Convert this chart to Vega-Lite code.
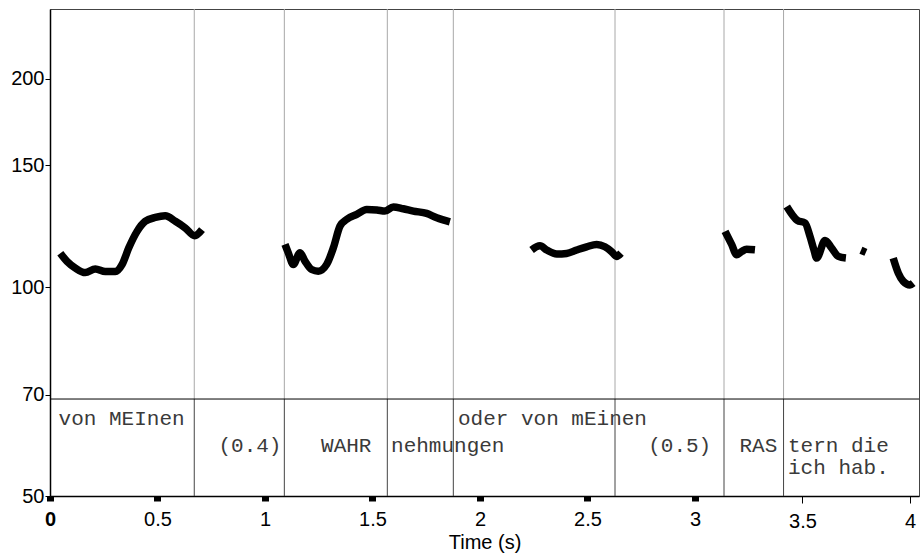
{
  "$schema": "https://vega.github.io/schema/vega-lite/v6.json",
  "width": 869,
  "height": 487,
  "autosize": "none",
  "padding": {"left": 50, "top": 9, "right": 2, "bottom": 58},
  "background": "white",
  "config": {"view": {"stroke": "#444", "strokeWidth": 1}, "font": "Liberation Sans"},
  "datasets": {
    "pitch": [
      {"seg": 1, "t": 0.048, "f0": 112.0}, {"seg": 1, "t": 0.079, "f0": 109.0}, {"seg": 1, "t": 0.118, "f0": 106.6},
      {"seg": 1, "t": 0.164, "f0": 105.0}, {"seg": 1, "t": 0.211, "f0": 106.3}, {"seg": 1, "t": 0.257, "f0": 105.4},
      {"seg": 1, "t": 0.304, "f0": 105.4}, {"seg": 1, "t": 0.335, "f0": 107.8}, {"seg": 1, "t": 0.366, "f0": 113.9},
      {"seg": 1, "t": 0.405, "f0": 120.4}, {"seg": 1, "t": 0.443, "f0": 124.5}, {"seg": 1, "t": 0.490, "f0": 126.1},
      {"seg": 1, "t": 0.536, "f0": 126.8}, {"seg": 1, "t": 0.583, "f0": 124.5}, {"seg": 1, "t": 0.629, "f0": 121.8},
      {"seg": 1, "t": 0.673, "f0": 118.7}, {"seg": 1, "t": 0.707, "f0": 121.1},
      {"seg": 2, "t": 1.093, "f0": 115.3}, {"seg": 2, "t": 1.108, "f0": 112.2}, {"seg": 2, "t": 1.132, "f0": 107.9},
      {"seg": 2, "t": 1.163, "f0": 112.2}, {"seg": 2, "t": 1.186, "f0": 109.1}, {"seg": 2, "t": 1.217, "f0": 106.1},
      {"seg": 2, "t": 1.248, "f0": 105.5}, {"seg": 2, "t": 1.287, "f0": 107.9}, {"seg": 2, "t": 1.318, "f0": 114.0},
      {"seg": 2, "t": 1.349, "f0": 122.6}, {"seg": 2, "t": 1.380, "f0": 125.3}, {"seg": 2, "t": 1.427, "f0": 127.4},
      {"seg": 2, "t": 1.473, "f0": 129.5}, {"seg": 2, "t": 1.520, "f0": 129.3}, {"seg": 2, "t": 1.558, "f0": 128.8},
      {"seg": 2, "t": 1.597, "f0": 130.6}, {"seg": 2, "t": 1.643, "f0": 129.8}, {"seg": 2, "t": 1.690, "f0": 128.8},
      {"seg": 2, "t": 1.752, "f0": 127.8}, {"seg": 2, "t": 1.799, "f0": 126.0}, {"seg": 2, "t": 1.860, "f0": 124.3},
      {"seg": 3, "t": 2.240, "f0": 113.2}, {"seg": 3, "t": 2.279, "f0": 114.8}, {"seg": 3, "t": 2.310, "f0": 113.2},
      {"seg": 3, "t": 2.357, "f0": 111.7}, {"seg": 3, "t": 2.403, "f0": 111.9}, {"seg": 3, "t": 2.450, "f0": 113.2},
      {"seg": 3, "t": 2.496, "f0": 114.4}, {"seg": 3, "t": 2.543, "f0": 115.3}, {"seg": 3, "t": 2.581, "f0": 114.4},
      {"seg": 3, "t": 2.613, "f0": 112.5}, {"seg": 3, "t": 2.635, "f0": 110.8}, {"seg": 3, "t": 2.656, "f0": 112.0},
      {"seg": 4, "t": 3.140, "f0": 120.4}, {"seg": 4, "t": 3.171, "f0": 115.2}, {"seg": 4, "t": 3.194, "f0": 111.4},
      {"seg": 4, "t": 3.217, "f0": 112.6}, {"seg": 4, "t": 3.240, "f0": 113.5}, {"seg": 4, "t": 3.279, "f0": 113.3},
      {"seg": 5, "t": 3.427, "f0": 130.8}, {"seg": 5, "t": 3.476, "f0": 124.9}, {"seg": 5, "t": 3.512, "f0": 123.8},
      {"seg": 5, "t": 3.535, "f0": 118.4}, {"seg": 5, "t": 3.553, "f0": 113.3}, {"seg": 5, "t": 3.566, "f0": 110.2},
      {"seg": 5, "t": 3.605, "f0": 116.8}, {"seg": 5, "t": 3.636, "f0": 113.9}, {"seg": 5, "t": 3.667, "f0": 110.8},
      {"seg": 5, "t": 3.702, "f0": 110.2},
      {"seg": 6, "t": 3.772, "f0": 113.1}, {"seg": 6, "t": 3.795, "f0": 112.3},
      {"seg": 7, "t": 3.922, "f0": 110.2}, {"seg": 7, "t": 3.946, "f0": 104.8}, {"seg": 7, "t": 3.969, "f0": 102.0},
      {"seg": 7, "t": 4.000, "f0": 100.8}, {"seg": 7, "t": 4.015, "f0": 101.4}
    ],
    "bounds": [
      {"t": 0.671}, {"t": 1.090}, {"t": 1.569}, {"t": 1.876}, {"t": 2.628}, {"t": 3.135}, {"t": 3.412}
    ],
    "labels": [
      {"label": "von MEInen", "t": 0.333, "row": 0},
      {"label": "(0.4)", "t": 0.930, "row": 1},
      {"label": "WAHR", "t": 1.378, "row": 1},
      {"label": "nehmungen", "t": 1.850, "row": 1},
      {"label": "oder von mEinen", "t": 2.337, "row": 0},
      {"label": "(0.5)", "t": 2.929, "row": 1},
      {"label": "RAS", "t": 3.295, "row": 1},
      {"label": "tern die\nich hab.", "t": 3.667, "row": 1}
    ]
  },
  "layer": [
    {
      "data": {"name": "bounds"},
      "mark": {"type": "rule", "color": "#a8a8a8", "strokeWidth": 1},
      "encoding": {
        "x": {"field": "t", "type": "quantitative", "scale": {"domain": [0, 4.042], "nice": false, "zero": false}},
        "y": {"datum": 69, "type": "quantitative", "scale": {"type": "log", "domain": [50, 252], "nice": false}},
        "y2": {"datum": 252}
      }
    },
    {
      "data": {"name": "bounds"},
      "mark": {"type": "rule", "color": "#444", "strokeWidth": 1},
      "encoding": {
        "x": {"field": "t", "type": "quantitative"},
        "y": {"datum": 50, "type": "quantitative"},
        "y2": {"datum": 69}
      }
    },
    {
      "data": {"values": [{}]},
      "mark": {"type": "rule", "color": "#000", "strokeWidth": 1},
      "encoding": {"y": {"datum": 69, "type": "quantitative"}}
    },
    {
      "data": {"name": "pitch"},
      "mark": {"type": "line", "color": "#000", "strokeWidth": 7.5, "interpolate": "monotone", "strokeJoin": "round"},
      "encoding": {
        "x": {
          "field": "t", "type": "quantitative",
          "scale": {"domain": [0, 4.042], "nice": false, "zero": false},
          "axis": {
            "title": "Time (s)", "titleFont": "Liberation Sans", "titleFontSize": 20, "titleFontWeight": "normal", "titleColor": "#000", "titlePadding": 1,
            "values": [0, 0.5, 1, 1.5, 2, 2.5, 3, 3.5, 4], "format": "~g",
            "labelFont": "Liberation Sans", "labelFontSize": 20, "labelColor": "#000", "labelFlush": false, "labelPadding": 8,
            "labelFontWeight": {"condition": {"test": "datum.value === 0", "value": "bold"}, "value": "normal"},
            "domainColor": "#000", "domainWidth": 1.5, "tickColor": "#000",
            "tickWidth": {"condition": {"test": "datum.value <= 3", "value": 7}, "value": 1},
            "tickSize": {"condition": {"test": "datum.value <= 3", "value": 5}, "value": 7},
            "grid": false
          }
        },
        "y": {
          "field": "f0", "type": "quantitative",
          "scale": {"type": "log", "domain": [50, 252], "nice": false},
          "axis": {
            "title": null, "values": [50, 70, 100, 150, 200], "format": "d",
            "labelFont": "Liberation Sans", "labelFontSize": 20, "labelColor": "#000", "labelPadding": 1,
            "domainColor": "#000", "domainWidth": 1.5, "tickColor": "#000", "tickSize": 5, "tickWidth": 1, "grid": false
          }
        },
        "detail": {"field": "seg", "type": "nominal"}
      }
    },
    {
      "data": {"name": "labels"},
      "transform": [{"filter": "datum.row === 0"}],
      "mark": {"type": "text", "font": "Liberation Mono", "fontSize": 21, "color": "#3a3a3a", "align": "center", "baseline": "alphabetic", "lineBreak": "\n", "lineHeight": 22},
      "encoding": {
        "x": {"field": "t", "type": "quantitative"},
        "y": {"datum": 63.4, "type": "quantitative"},
        "text": {"field": "label"}
      }
    },
    {
      "data": {"name": "labels"},
      "transform": [{"filter": "datum.row === 1"}],
      "mark": {"type": "text", "font": "Liberation Mono", "fontSize": 21, "color": "#3a3a3a", "align": "center", "baseline": "alphabetic", "lineBreak": "\n", "lineHeight": 22},
      "encoding": {
        "x": {"field": "t", "type": "quantitative"},
        "y": {"datum": 57.96, "type": "quantitative"},
        "text": {"field": "label"}
      }
    }
  ]
}
